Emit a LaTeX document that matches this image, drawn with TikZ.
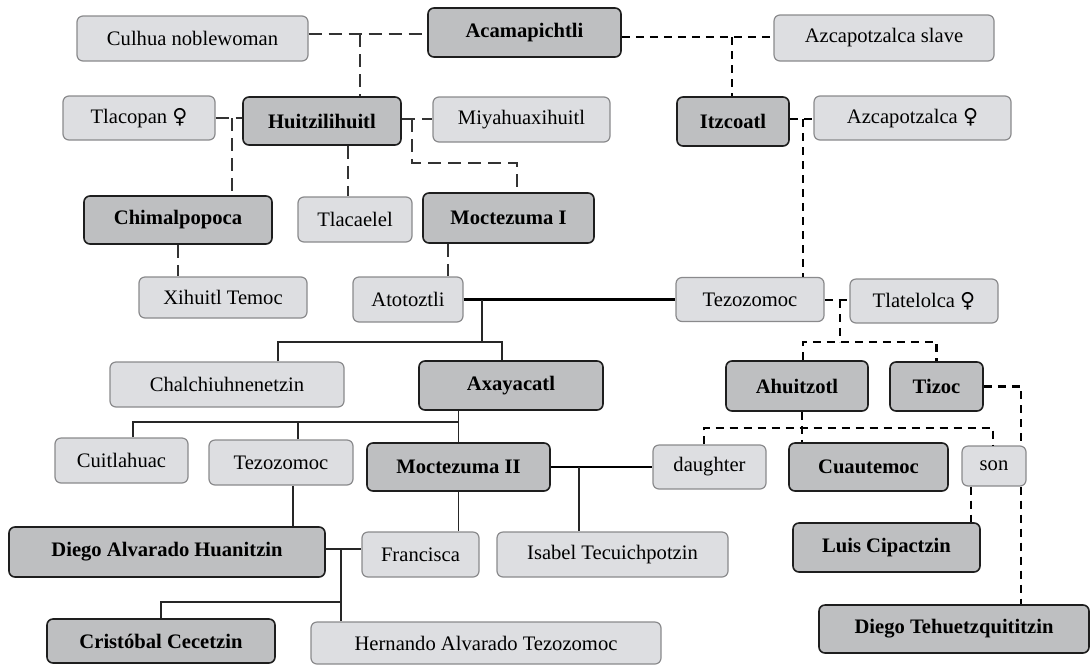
\documentclass[tikz,border=0pt]{standalone}
\usepackage{fontspec}
\setmainfont{Liberation Serif}
\newfontfamily\venusfont{DejaVu Sans}
\usepackage{tikz}
\usetikzlibrary{calc,positioning}

\definecolor{paleBox}{RGB}{221,222,225}
\definecolor{paleLine}{RGB}{138,138,140}
\definecolor{darkBox}{RGB}{190,191,193}
\definecolor{darkLine}{RGB}{30,30,30}
\newcommand{\fem}{{\venusfont ♀}}

\begin{document}
\begin{tikzpicture}[
  x=0.5pt, y=-0.5pt,
  wh/.style 2 args={minimum width=#1, minimum height=#2},
  pale/.style={draw=paleLine, fill=paleBox, line width=0.6pt, rounded corners=3pt,
    inner sep=2pt, align=center, font=\fontsize{10.3}{12}\selectfont},
  ruler/.style={draw=darkLine, fill=darkBox, line width=0.8pt, rounded corners=3pt,
    inner sep=2pt, align=center, font=\fontsize{10.3}{12}\selectfont\bfseries},
  dashline/.style={draw=black!80, line width=0.6pt, dash pattern=on 6.5pt off 3.5pt},
  dotline/.style={draw=black, line width=1.3pt, dash pattern=on 4pt off 3pt},
  kid/.style={draw=black!85, line width=0.6pt},
  wed/.style={draw=black, line width=1.2pt}
]
\path[use as bounding box] (0,0) rectangle (1091,665);
%% --- first generations -----------------------------------------------------
\node[pale, wh={115.5pt}{22.5pt}]  (culhua)    at (192.5,38.5) {Culhua noblewoman};
\node[ruler, wh={96.5pt}{24.5pt}]  (acama)     at (524.5,32.5) {Acamapichtli};
\node[pale, wh={110pt}{23pt}]      (azslave)   at (884,38)     {Azcapotzalca slave};
\node[pale, wh={76pt}{22pt}]       (tlacopan)  at (139,118)    {Tlacopan \fem};
\node[ruler, wh={79pt}{24pt}]      (huitz)     at (322,121)    {Huitzilihuitl};
\node[pale, wh={88.5pt}{22.5pt}]   (miya)      at (521.5,119.5){Miyahuaxihuitl};
\node[ruler, wh={56pt}{24.5pt}]    (itzcoatl)  at (733,121.5)  {Itzcoatl};
\node[pale, wh={98.5pt}{22pt}]     (azfem)     at (912.5,118)  {Azcapotzalca \fem};
\node[ruler, wh={94pt}{24pt}]      (chimal)    at (178,220)    {Chimalpopoca};
\node[pale, wh={57pt}{22.5pt}]     (tlacaelel) at (355,219.5)  {Tlacaelel};
\node[ruler, wh={85.5pt}{25pt}]    (moct1)     at (508.5,218)  {Moctezuma I};
\node[pale, wh={84pt}{20.5pt}]     (xihuitl)   at (223,297.5)  {Xihuitl Temoc};
\node[pale, wh={55pt}{22.5pt}]     (atotoztli) at (408,299.5)  {Atotoztli};
\node[pale, wh={74pt}{22pt}]       (tezR)      at (750,299.5)  {Tezozomoc};
\node[pale, wh={74pt}{22pt}]       (tlatelolca) at (924,301)   {Tlatelolca \fem};
%% --- middle generations ----------------------------------------------------
\node[pale, wh={117pt}{22.5pt}]    (chalch)    at (227,384.5)  {Chalchiuhnenetzin};
\node[ruler, wh={92pt}{24.5pt}]    (axa)       at (511,385.5)  {Axayacatl};
\node[ruler, wh={71pt}{25pt}]      (ahuitzotl) at (797,386)    {Ahuitzotl};
\node[ruler, wh={46.5pt}{24.5pt}]  (tizoc)     at (936.5,386.5){Tizoc};
\node[pale, wh={66.5pt}{22.5pt}]   (cuitl)     at (121.5,460.5){Cuitlahuac};
\node[pale, wh={72pt}{22.5pt}]     (tezL)      at (281,462.5)  {Tezozomoc};
\node[ruler, wh={91.5pt}{24pt}]    (moct2)     at (458.5,467)  {Moctezuma II};
\node[pale, wh={56.5pt}{22pt}]     (daughter)  at (709.5,467)  {daughter};
\node[ruler, wh={79.5pt}{24pt}]    (cuaut)     at (868.5,467)  {Cuautemoc};
\node[pale, wh={32pt}{20pt}]       (son)       at (994,466)    {son};
%% --- last generations ------------------------------------------------------
\node[ruler, wh={158pt}{25pt}]     (dah)       at (167,552)    {Diego Alvarado Huanitzin};
\node[pale, wh={58.5pt}{22.5pt}]   (francisca) at (420.5,554.5){Francisca};
\node[pale, wh={115.5pt}{22.5pt}]  (isabel)    at (612.5,554.5){Isabel Tecuichpotzin};
\node[ruler, wh={93.5pt}{24.5pt}]  (luis)      at (886.5,547.5){Luis Cipactzin};
\node[ruler, wh={114pt}{22pt}]     (cristobal) at (161,641)    {Cristóbal Cecetzin};
\node[pale, wh={175pt}{21pt}]      (hernando)  at (486,643)    {Hernando Alvarado Tezozomoc};
\node[ruler, wh={135pt}{24pt}]     (dtehu)     at (954,629)    {Diego Tehuetzquititzin};
%% --- junction points -------------------------------------------------------
\coordinate (w1) at (360,34);
\coordinate (w2) at (232,118);
\coordinate (w3) at (412,119);
\coordinate (w4) at (732,37);
\coordinate (w5) at (803,119);
\coordinate (w6) at (840,300);
\coordinate (k1) at (482,342);
\coordinate (k2) at (458,422);
\coordinate (k3) at (341,549);
\coordinate (k4) at (341,602);
\coordinate (k5) at (840,342);
\coordinate (k6) at (993,428);
%% --- Culhua line (dashed) --------------------------------------------------
\draw[dashline] (culhua.east |- w1) -- (acama.west |- w1);
\draw[dashline] (w1) -- (w1 |- huitz.north);
\draw[dashline] (tlacopan.east |- w2) -- (huitz.west |- w2);
\draw[dashline] (w2) -- (w2 |- chimal.north);
\draw[dashline] (huitz.east |- w3) -- (miya.west |- w3);
\draw[dashline] (w3) -- ++(0,44) -| ($(moct1.north)+(8.5,0)$);
\draw[dashline] (348,0 |- huitz.south) -- (348,0 |- tlacaelel.north);
\draw[dashline] (chimal.south) -- (chimal.south |- xihuitl.north);
\draw[dashline] (448,0 |- moct1.south) -- (448,0 |- atotoztli.north);
%% --- solid lines -----------------------------------------------------------
\draw[wed] (atotoztli.east) -- (tezR.west);
\draw[kid] (k1 |- atotoztli.east) -- (k1);
\draw[kid] (278,0 |- chalch.north) |- (k1) -| (502,0 |- axa.north);
\draw[kid] (moct2.north |- axa.south) -- (moct2.north);
\draw[kid] (133,0 |- cuitl.north) |- (k2);
\draw[kid] (298,0 |- tezL.north) -- (298,0 |- k2);
\draw[kid] (293,0 |- tezL.south) -- (293,0 |- dah.north);
\draw[wed] (moct2.east) -- (daughter.west);
\draw[kid] (579,0 |- moct2.east) -- (579,0 |- isabel.north);
\draw[kid] (moct2.south) -- (moct2.south |- francisca.north);
\draw[kid] (dah.east |- k3) -- (francisca.west |- k3);
\draw[kid] (k3) -- (k3 |- hernando.north);
\draw[kid] (k4) -| (cristobal.north);
%% --- Azcapotzalca line (dotted) --------------------------------------------
\draw[dotline] (acama.east |- w4) -- (azslave.west |- w4);
\draw[dotline] (w4) -- (w4 |- itzcoatl.north);
\draw[dotline] (itzcoatl.east |- w5) -- (azfem.west |- w5);
\draw[dotline] (w5) -- (w5 |- tezR.north);
\draw[dotline] (tezR.east |- w6) -- (tlatelolca.west |- w6);
\draw[dotline] (w6) -- (k5);
\draw[dotline] (803,0 |- ahuitzotl.north) |- (tizoc.north |- k5) -- (tizoc.north);
\draw[dotline] (802,0 |- ahuitzotl.south) -- (802,0 |- cuaut.north);
\draw[dotline] (704,0 |- daughter.north) |- (k6) -- (k6 |- son.north);
\draw[dotline] (tizoc.east) -| (1021,0 |- son.north);
\draw[dotline] (1021,0 |- son.south) -- (1021,0 |- dtehu.north);
\draw[dotline] (971,0 |- son.south) -- (971,0 |- luis.north);
\end{tikzpicture}
\end{document}
